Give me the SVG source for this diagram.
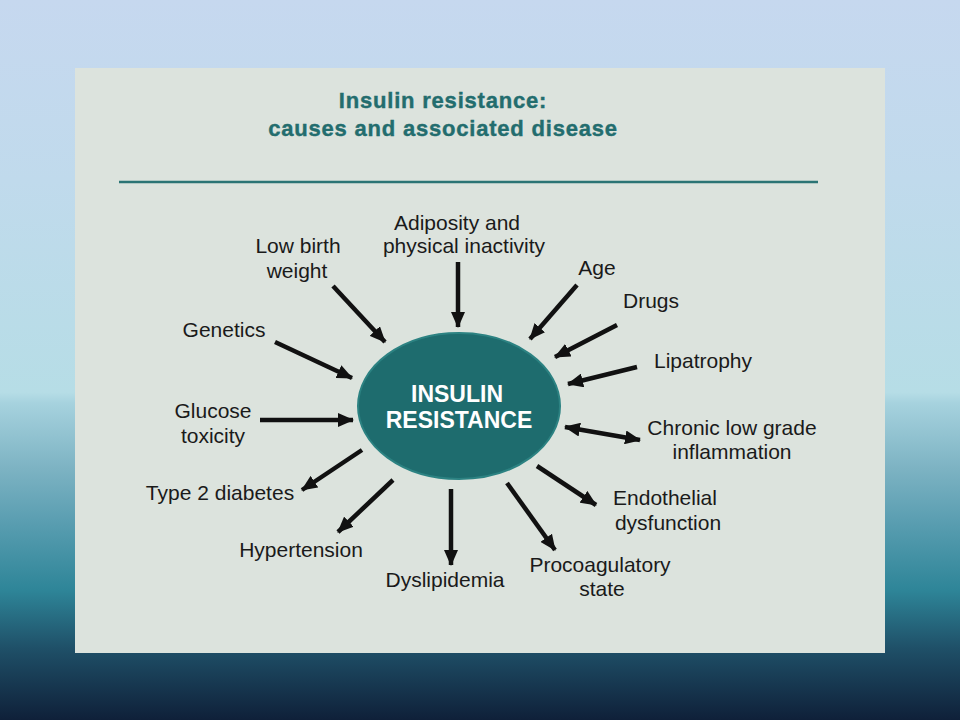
<svg xmlns="http://www.w3.org/2000/svg" width="960" height="720" viewBox="0 0 960 720">
<defs>
<linearGradient id="bg" x1="0" y1="0" x2="0" y2="1">
<stop offset="0" stop-color="#c6d8ef"/>
<stop offset="0.25" stop-color="#c0daec"/>
<stop offset="0.545" stop-color="#b6dde6"/>
<stop offset="0.56" stop-color="#a6d2de"/>
<stop offset="0.65" stop-color="#7db3c3"/>
<stop offset="0.72" stop-color="#5c9fb2"/>
<stop offset="0.82" stop-color="#2e8598"/>
<stop offset="0.9" stop-color="#1f5068"/>
<stop offset="1" stop-color="#0f2039"/>
</linearGradient>
<marker id="ah" viewBox="0 0 16 14" refX="15" refY="7" markerWidth="16" markerHeight="14" markerUnits="userSpaceOnUse" orient="auto-start-reverse">
<path d="M0,0 L16,7 L0,14 Z" fill="#111"/>
</marker>
<style>
.lbl{font-family:"Liberation Sans",Arial,sans-serif;font-size:21px;fill:#1a1a1a;text-anchor:middle}
.ttl{font-family:"Liberation Sans",Arial,sans-serif;font-size:22px;font-weight:bold;fill:#236d6e;text-anchor:middle;letter-spacing:0.8px;stroke:#236d6e;stroke-width:0.4}
.ctr{font-family:"Liberation Sans",Arial,sans-serif;font-size:23px;font-weight:bold;fill:#ffffff;text-anchor:middle}
.arr{stroke:#111;stroke-width:4.5;fill:none;marker-end:url(#ah)}
.dbl{marker-start:url(#ah)}
</style>
</defs>
<rect x="0" y="0" width="960" height="720" fill="url(#bg)"/>
<rect x="75" y="68" width="810" height="585" fill="#dce3dd"/>
<g id="title">
<text class="ttl" x="443" y="108">Insulin resistance:</text>
<text class="ttl" x="443" y="136">causes and associated disease</text>
<line x1="119" y1="182" x2="818" y2="182" stroke="#2b7474" stroke-width="2.5"/>
</g>
<g id="connectors">
<line class="arr" x1="458" y1="262" x2="458" y2="327"/>
<line class="arr" x1="333" y1="286" x2="385" y2="342"/>
<line class="arr" x1="275" y1="342" x2="352" y2="378"/>
<line class="arr" x1="260" y1="420" x2="353" y2="420"/>
<line class="arr" x1="577" y1="285" x2="530" y2="339"/>
<line class="arr" x1="617" y1="325" x2="555" y2="357"/>
<line class="arr" x1="637" y1="367" x2="568" y2="384"/>
<line class="arr dbl" x1="565" y1="427" x2="640" y2="440"/>
<line class="arr" x1="362" y1="450" x2="302" y2="490"/>
<line class="arr" x1="393" y1="480" x2="338" y2="532"/>
<line class="arr" x1="451" y1="489" x2="451" y2="565"/>
<line class="arr" x1="507" y1="483" x2="555" y2="550"/>
<line class="arr" x1="537" y1="466" x2="596" y2="505"/>
</g>
<g id="center">
<ellipse cx="459" cy="406" rx="101" ry="73" fill="#1e6c6e" stroke="#2c8282" stroke-width="2"/>
<text class="ctr" x="457" y="402">INSULIN</text>
<text class="ctr" x="459" y="428">RESISTANCE</text>
</g>
<g id="adiposity"><text class="lbl" x="457" y="230">Adiposity and</text><text class="lbl" x="464" y="253">physical inactivity</text></g>
<g id="lowbirth"><text class="lbl" x="298" y="253">Low birth</text><text class="lbl" x="297" y="278">weight</text></g>
<g id="genetics"><text class="lbl" x="224" y="337">Genetics</text></g>
<g id="glucose"><text class="lbl" x="213" y="418">Glucose</text><text class="lbl" x="213" y="443">toxicity</text></g>
<g id="age"><text class="lbl" x="597" y="275">Age</text></g>
<g id="drugs"><text class="lbl" x="651" y="308">Drugs</text></g>
<g id="lipatrophy"><text class="lbl" x="703" y="368">Lipatrophy</text></g>
<g id="inflammation"><text class="lbl" x="732" y="435">Chronic low grade</text><text class="lbl" x="732" y="459">inflammation</text></g>
<g id="t2d"><text class="lbl" x="220" y="500">Type 2 diabetes</text></g>
<g id="hypertension"><text class="lbl" x="301" y="557">Hypertension</text></g>
<g id="dyslipidemia"><text class="lbl" x="445" y="587">Dyslipidemia</text></g>
<g id="procoag"><text class="lbl" x="600" y="572">Procoagulatory</text><text class="lbl" x="602" y="596">state</text></g>
<g id="endothelial"><text class="lbl" x="665" y="505">Endothelial</text><text class="lbl" x="668" y="530">dysfunction</text></g>
</svg>
